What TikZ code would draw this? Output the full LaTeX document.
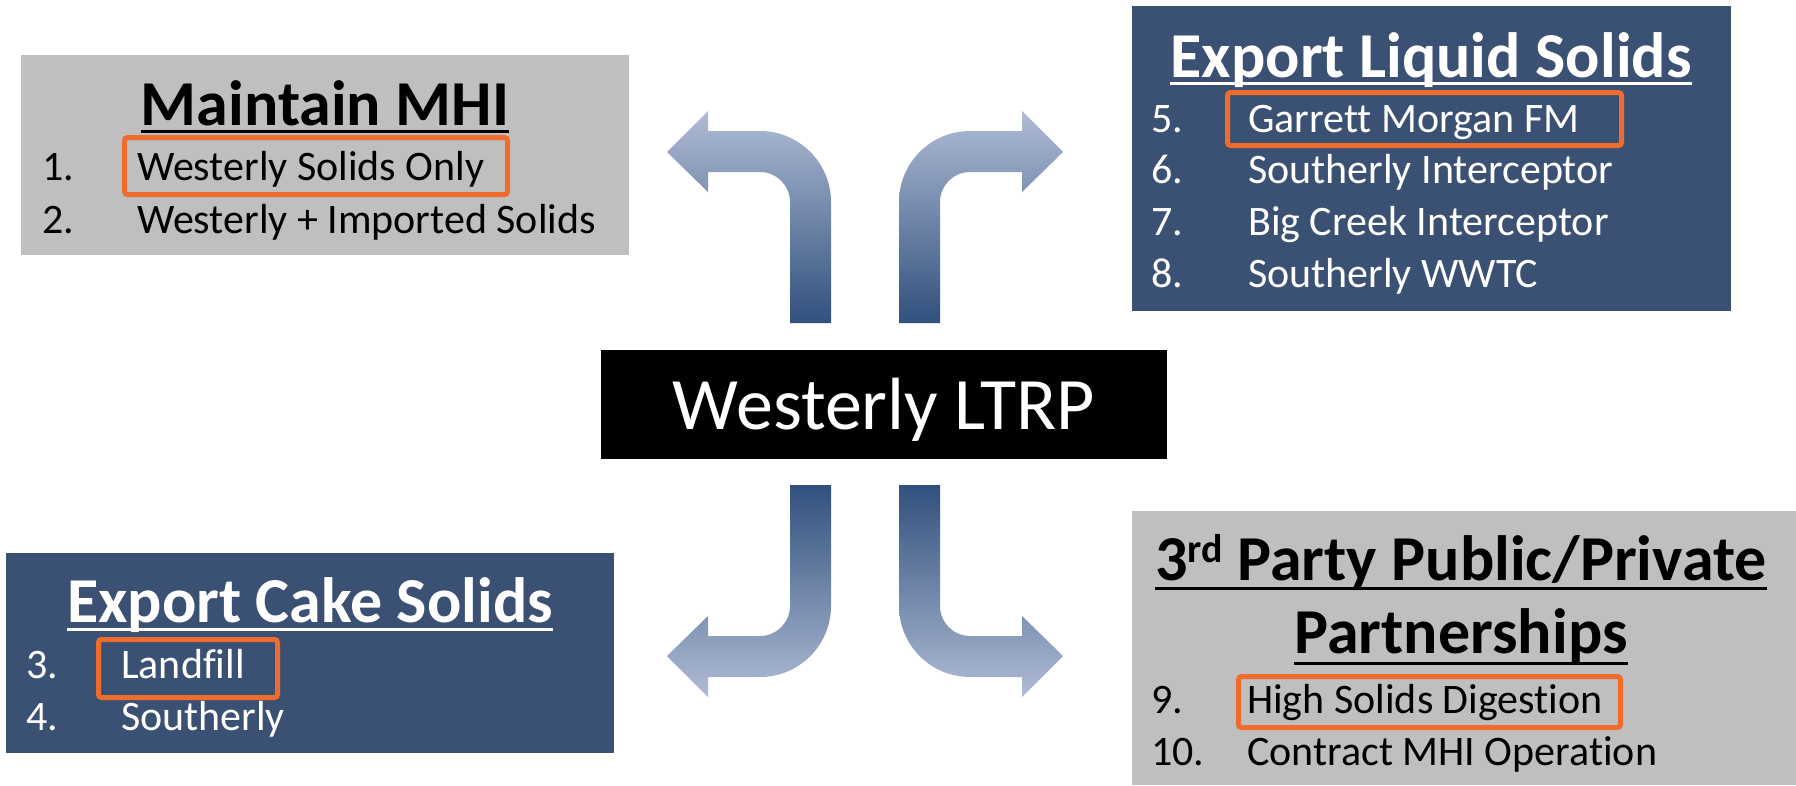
\documentclass[tikz,border=0pt]{standalone}
\usepackage{fontspec}
\setmainfont{Carlito}[Ligatures=NoCommon]
\definecolor{navy}{RGB}{59,81,115}
\definecolor{greybox}{RGB}{191,191,191}
\definecolor{hl}{RGB}{240,108,44}
\definecolor{arlight}{RGB}{176,188,213}
\definecolor{ardark}{RGB}{49,80,125}
\begin{document}
\begin{tikzpicture}[x=1pt,y=-1pt,
  panel/.style={draw=none,anchor=north west,inner sep=0pt,outer sep=0pt},
  item/.style={anchor=base west,inner sep=0pt,font=\fontsize{42}{50}\selectfont},
  ttl/.style={anchor=base,inner sep=0pt,font=\fontsize{64}{72}\selectfont\bfseries},
  ul/.style={line width=3pt},
  hlbox/.style={draw=hl,line width=5pt,rounded corners=3pt},
  uparrow/.style={top color=arlight,bottom color=ardark,draw=none},
  downarrow/.style={top color=ardark,bottom color=arlight,draw=none}]
\useasboundingbox (0,0) rectangle (1796,785);
\fill[white] (0,0) rectangle (1796,785);

% panels
\node[panel,fill=greybox,minimum width=608pt,minimum height=200pt] (mhibox) at (21,55) {};
\node[panel,fill=navy,minimum width=599pt,minimum height=305pt] (liqbox) at (1132,6) {};
\node[panel,fill=navy,minimum width=608pt,minimum height=200pt] (cakebox) at (6,553) {};
\node[panel,fill=greybox,minimum width=664pt,minimum height=274pt] (ppbox) at (1132,511) {};

% centre
\node[fill=black,text=white,inner sep=0pt,minimum width=566pt,minimum height=109pt,
  text height=49pt,text depth=0pt,font=\fontsize{74}{80}\selectfont] (ltrp) at (884,404.5) {Westerly LTRP};

% arrows
\shade[uparrow] (790,323) -- (790,202) .. controls (790,185.4) and (776.6,172) .. (760,172) -- (708,172) -- (708,192) -- (667,152) -- (708,111) -- (708,131) -- (760,131) .. controls (799.2,131) and (831,162.8) .. (831,202) -- (831,323) -- cycle;
\shade[uparrow] (940,323) -- (940,202) .. controls (940,185.4) and (953.4,172) .. (970,172) -- (1022,172) -- (1022,192) -- (1063,152) -- (1022,111) -- (1022,131) -- (970,131) .. controls (930.8,131) and (899,162.8) .. (899,202) -- (899,323) -- cycle;
\shade[downarrow] (790,485) -- (790,606) .. controls (790,622.6) and (776.6,636) .. (760,636) -- (708,636) -- (708,616) -- (667,656) -- (708,697) -- (708,677) -- (760,677) .. controls (799.2,677) and (831,645.2) .. (831,606) -- (831,485) -- cycle;
\shade[downarrow] (940,485) -- (940,606) .. controls (940,622.6) and (953.4,636) .. (970,636) -- (1022,636) -- (1022,616) -- (1063,656) -- (1022,697) -- (1022,677) -- (970,677) .. controls (930.8,677) and (899,645.2) .. (899,606) -- (899,485) -- cycle;

% Maintain MHI
\node[ttl] (t1) at (325,125) {Maintain MHI};
\draw[ul] ([yshift=-6pt]t1.base west) -- ([yshift=-6pt]t1.base east);
\node[item] (n1) at (42,180) {1.};
\node[item] (i1) at (137,180) {Westerly Solids Only};
\node[item] (n2) at (42,233) {2.};
\node[item] (i2) at (137,233) {Westerly + Imported Solids};
\draw[hlbox] (124.5,137.5) rectangle (507.5,194.5);

% Export Liquid Solids
\node[ttl,text=white] (t2) at (1431,77) {Export Liquid Solids};
\draw[ul,white] ([yshift=-6pt]t2.base west) -- ([yshift=-6pt]t2.base east);
\node[item,text=white] (n5) at (1151,132) {5.};
\node[item,text=white] (i5) at (1248,132) {Garrett Morgan FM};
\node[item,text=white] (n6) at (1151,183) {6.};
\node[item,text=white] (i6) at (1248,183) {Southerly Interceptor};
\node[item,text=white] (n7) at (1151,235) {7.};
\node[item,text=white] (i7) at (1248,235) {Big Creek Interceptor};
\node[item,text=white] (n8) at (1151,287) {8.};
\node[item,text=white] (i8) at (1248,287) {Southerly WWTC};
\draw[hlbox] (1227.5,92.5) rectangle (1621.5,145.5);

% Export Cake Solids
\node[ttl,text=white] (t3) at (310,622) {Export Cake Solids};
\draw[ul,white] ([yshift=-7pt]t3.base west) -- ([yshift=-7pt]t3.base east);
\node[item,text=white] (n3) at (26,678) {3.};
\node[item,text=white] (i3) at (121,678) {Landfill};
\node[item,text=white] (n4) at (26,730) {4.};
\node[item,text=white] (i4) at (121,730) {Southerly};
\draw[hlbox] (98.5,639.5) rectangle (277.5,697.5);

% 3rd Party
\node[ttl] (t4a) at (1461,580) {3\raisebox{18pt}{\fontsize{40}{44}\selectfont rd} Party Public/Private};
\draw[ul] ([yshift=-8pt]t4a.base west) -- ([yshift=-8pt]t4a.base east);
\node[ttl] (t4b) at (1461,653) {Partnerships};
\draw[ul] ([yshift=-10pt]t4b.base west) -- ([yshift=-10pt]t4b.base east);
\node[item] (n9) at (1151,713) {9.};
\node[item] (i9) at (1247,713) {High Solids Digestion};
\node[item] (n10) at (1151,765) {10.};
\node[item] (i10) at (1247,765) {Contract MHI Operation};
\draw[hlbox] (1238.5,676.5) rectangle (1620.5,727.5);
\end{tikzpicture}
\end{document}
